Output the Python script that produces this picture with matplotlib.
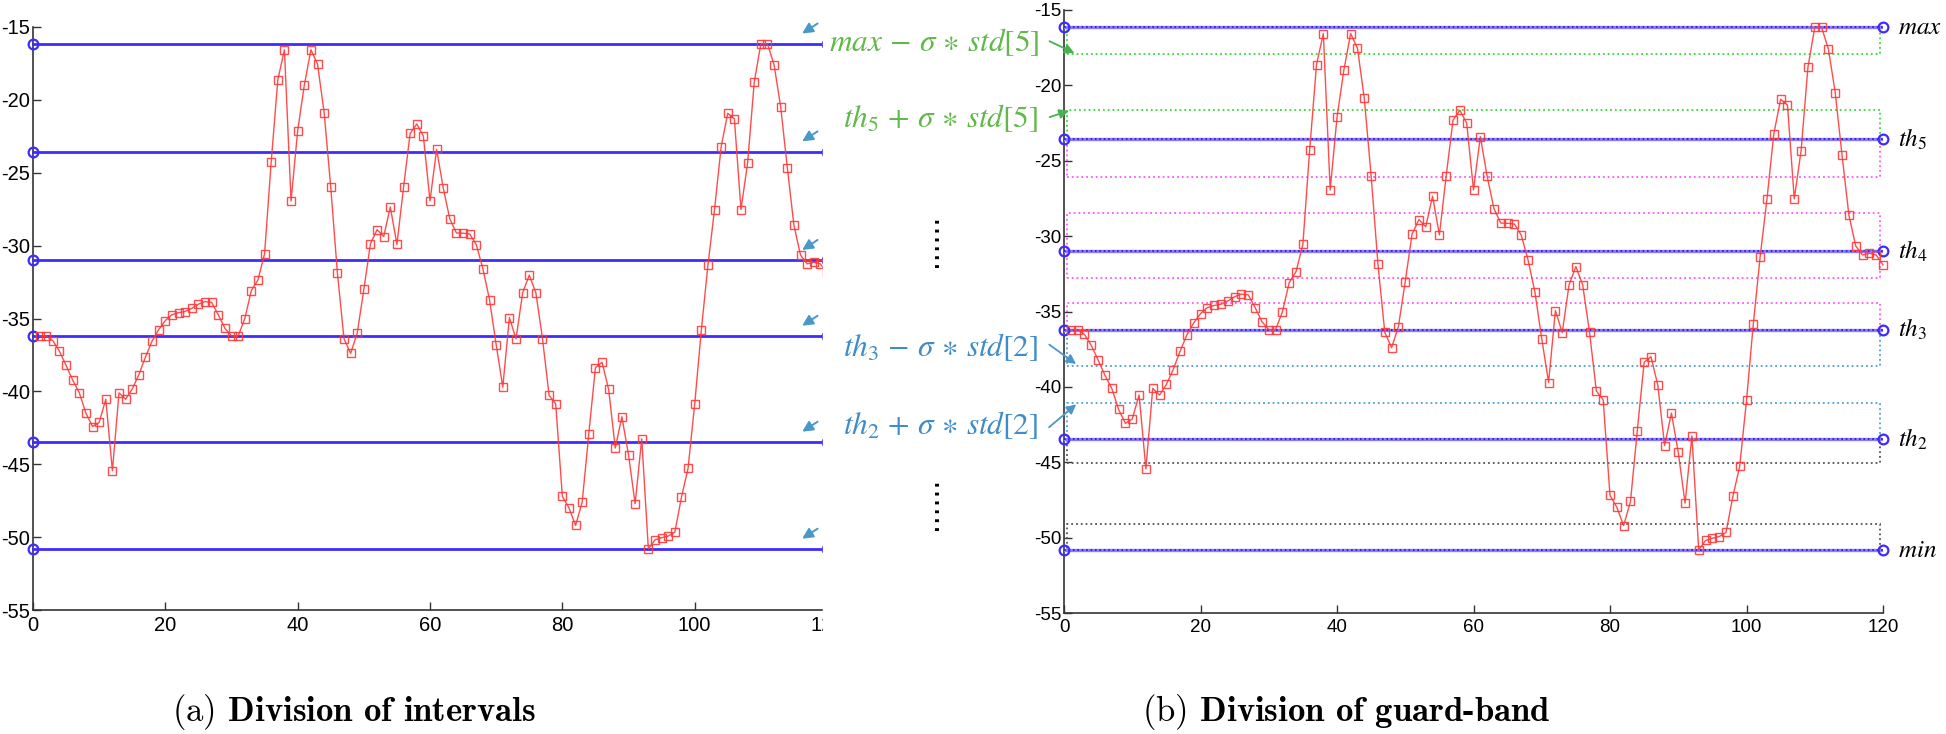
import os
import numpy as np
import matplotlib as mpl
import matplotlib.pyplot as plt
from matplotlib.patches import Rectangle
from matplotlib.font_manager import FontProperties

plt.rcParams['font.family'] = ['Liberation Sans', 'DejaVu Sans']
plt.rcParams['axes.unicode_minus'] = False

# RSS samples (same series in both panels)
x = np.arange(1, 121)
rss = [-36.2, -36.2, -36.52, -37.25, -38.22, -39.23, -40.1, -41.5, -42.42, -42.13,
       -40.54, -45.44, -40.1, -40.54, -39.84, -38.85, -37.64, -36.55, -35.76, -35.14,
       -34.74, -34.6, -34.52, -34.3, -34.02, -33.84, -33.9, -34.74, -35.67, -36.2,
       -36.2, -35.02, -33.08, -32.35, -30.55, -24.26, -18.62, -16.56, -26.94, -22.12,
       -19.0, -16.56, -17.54, -20.87, -26.0, -31.85, -36.38, -37.4, -36.0, -33.01,
       -29.87, -28.9, -29.38, -27.35, -29.92, -26.0, -22.3, -21.65, -22.5, -26.93,
       -23.4, -26.04, -28.18, -29.13, -29.15, -29.2, -29.94, -31.6, -33.72, -36.8,
       -39.71, -34.94, -36.4, -33.24, -32.02, -33.24, -36.38, -40.27, -40.86, -47.2,
       -47.99, -49.2, -47.6, -42.9, -38.37, -38.0, -39.87, -43.89, -41.74, -44.35,
       -47.71, -43.25, -50.81, -50.19, -50.04, -49.93, -49.66, -47.27, -45.28, -40.9,
       -35.82, -31.36, -27.53, -23.22, -20.92, -21.3, -27.53, -24.33, -18.8, -16.15,
       -16.15, -17.59, -20.48, -24.64, -28.6, -30.65, -31.25, -31.14, -31.25, -31.91]

# thresholds: min, th2, th3, th4, th5, max
levels = [-50.81, -43.47, -36.2, -31.0, -23.55, -16.15]
level_names = [r'$min$', r'$th_2$', r'$th_3$', r'$th_4$', r'$th_5$', r'$max$']

# guard-band lines inside each interval (lower side, upper side)
guard_low = [-49.09, -41.04, -34.41, -28.48, -21.63]
guard_high = [-45.06, -38.59, -32.8, -26.1, -17.94]
band_colors = ['#555555', '#4a9fd8', '#ff55ff', '#ff55ff', '#33dd33']

xticks = [0, 20, 40, 60, 80, 100, 120]
yticks = [-55, -50, -45, -40, -35, -30, -25, -20, -15]
x_span = [0, 120]

W, H = 1946, 734
fig = plt.figure(figsize=(W / 100, H / 100), dpi=100)


def box(l, t, r, b):
    return [l / W, 1 - b / H, (r - l) / W, (b - t) / H]


def fx(px):
    return px / W


def fy(py):
    return 1 - py / H


def style(ax, fs):
    ax.set_xlim(x_span)
    ax.set_ylim(-55, -15)
    ax.set_xticks(xticks)
    ax.set_yticks(yticks)
    for s in ['top', 'right']:
        ax.spines[s].set_visible(False)
    for s in ['left', 'bottom']:
        ax.spines[s].set_color('#333333')
        ax.spines[s].set_linewidth(1.2)
    ax.tick_params(direction='in', length=6, width=1, colors='#333333',
                   labelcolor='black', labelsize=fs)
    ax.tick_params(axis='x', pad=4)
    ax.tick_params(axis='y', pad=2)


blue = '#3d2bff'
red = '#ff3838'

# ---- (a) division of intervals
ax1 = fig.add_axes(box(33, 27, 827, 610))
style(ax1, 14.5)
for lv in levels:
    ax1.plot(x_span, [lv, lv], color=blue, lw=2, marker='o', ms=7, mfc='none',
             mec=blue, mew=1.6, clip_on=False, zorder=3)
ax1.plot(x, rss, color=red, lw=1, marker='s', ms=5.5, mfc='none', mew=1,
         alpha=0.9, zorder=4)
for lv in levels:
    ax1.annotate('', xy=(115.9, lv + 0.6), xytext=(20, 13), textcoords='offset pixels',
                 arrowprops=dict(arrowstyle='-|>', color='#4a97c9', lw=1.4,
                                 mutation_scale=16), annotation_clip=False)

# the source picture is cropped right of x~119
fig.add_artist(Rectangle((fx(822.5), fy(650)), fx(850) - fx(822.5), fy(0) - fy(650),
                         transform=fig.transFigure, color='white', zorder=2.5))

# ---- (b) division of guard-band
ax2 = fig.add_axes(box(1064, 10, 1883, 613))
style(ax2, 13.5)
for lo_lv, hi_lv, g_lo, g_hi, c in zip(levels[:-1], levels[1:], guard_low, guard_high, band_colors):
    for y0, y1 in [(lo_lv, g_lo), (g_hi, hi_lv)]:
        ax2.add_patch(Rectangle((0.5, y0), 119, y1 - y0, fill=False, ec=c,
                                ls=':', lw=1.3, zorder=2))
for lv, name in zip(levels, level_names):
    ax2.plot(x_span, [lv, lv], color='#8a7cff', lw=2.4, zorder=3)
    ax2.plot(x_span, [lv, lv], color='#2a10d8', lw=1.2, ls=':', marker='o', ms=7,
             mfc='none', mec=blue, mew=1.6, clip_on=False, zorder=3)
    ax2.annotate(name, xy=(120, lv), xytext=(11, 0), textcoords='offset points',
                 va='center', ha='left', fontsize=18, math_fontfamily='stix',
                 annotation_clip=False)
ax2.plot(x, rss, color=red, lw=1, marker='s', ms=5.5, mfc='none', mew=1,
         alpha=0.9, zorder=4, clip_on=False)

# ---- labels between the panels
green_t, blue_t = '#62b84a', '#3f8cc8'
notes = [(r'$max\,-\,\sigma\,\ast\,std[5]$', 1040, 42, green_t),
         (r'$th_5\,+\,\sigma\,\ast\,std[5]$', 1038, 118, green_t),
         (r'$th_3\,-\,\sigma\,\ast\,std[2]$', 1038, 347, blue_t),
         (r'$th_2\,+\,\sigma\,\ast\,std[2]$', 1038, 425, blue_t)]
for s, px, py, c in notes:
    fig.text(fx(px), fy(py), s, color=c, fontsize=22.5, ha='right', va='center',
             math_fontfamily='stix', zorder=4)

arrows = [(1.9, guard_high[4], 1047, 40, '#4caf50'),
          (1.1, guard_low[4], 1047, 118, '#4caf50'),
          (2.1, guard_high[1], 1047, 343, '#4a97c9'),
          (2.1, guard_low[1], 1047, 429, '#4a97c9')]
for ax_x, ax_y, px, py, c in arrows:
    ax2.annotate('', xy=(ax_x, ax_y), xytext=(px, H - py), textcoords='figure pixels',
                 arrowprops=dict(arrowstyle='-|>', color=c, lw=1.3, mutation_scale=14),
                 annotation_clip=False, zorder=5)

for py in [240, 503]:
    fig.text(fx(929), fy(py), '......', rotation=90, fontsize=20,
             ha='center', va='center', family='DejaVu Sans', zorder=4)

# captions
cmb = FontProperties(fname=os.path.join(mpl.get_data_path(), 'fonts', 'ttf', 'cmb10.ttf'), size=25)
fig.text(fx(172), fy(712), r'$\mathrm{(a)}$ Division of intervals', fontproperties=cmb,
         math_fontfamily='cm', ha='left', va='center')
fig.text(fx(1142), fy(712), r'$\mathrm{(b)}$ Division of guard-band', fontproperties=cmb,
         math_fontfamily='cm', ha='left', va='center')

fig.savefig('out.png', dpi=100, facecolor='white')
